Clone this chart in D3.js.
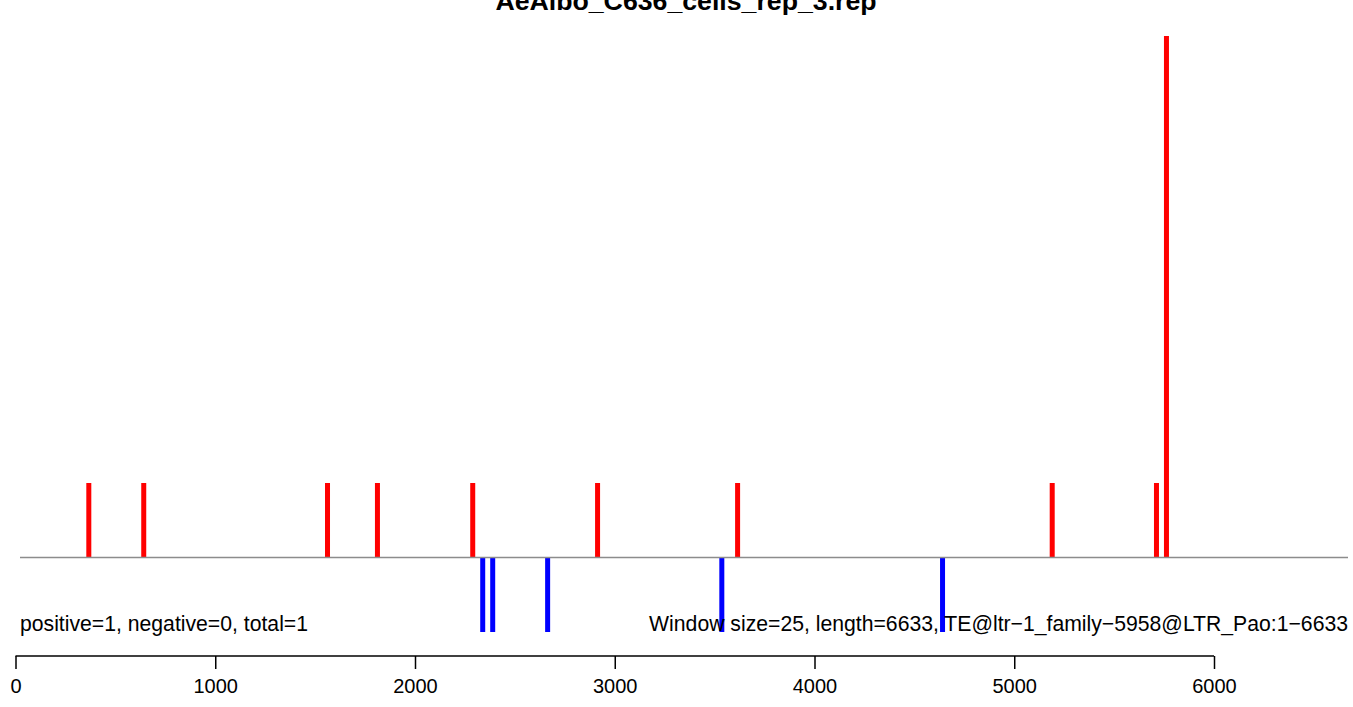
<!DOCTYPE html>
<html><head><meta charset="utf-8">
<script src="https://cdn.jsdelivr.net/npm/d3@7"></script>
<style>html,body{margin:0;padding:0;background:#fff;}svg{display:block;font-family:"Liberation Sans",Arial,sans-serif;}</style>
</head><body><svg id="c" width="1353" height="707"></svg>
<script>
const title = "AeAlbo_C636_cells_rep_3.rep";
const posPositions = [367, 642, 1562, 1812, 2289, 2914, 3615, 5190, 5712, 5762];
const posValues    = [1, 1, 1, 1, 1, 1, 1, 1, 1, 7];
const negPositions = [2339, 2389, 2664, 3536, 4641];
const negValues    = [-1, -1, -1, -1, -1];
const tickValues   = [0, 1000, 2000, 3000, 4000, 5000, 6000];
const leftNote  = "positive=1, negative=0, total=1";
const rightNote = "Window size=25, length=6633, TE@ltr\u22121_family\u22125958@LTR_Pao:1\u22126633";

const svg = d3.select("#c");
const x = d3.scaleLinear().domain([0, 6000]).range([15.5, 1214]);
const y = d3.scaleLinear().domain([0, 7]).range([557.5, 36]);
const bw = 5;

const pos = posPositions.map((p, i) => ({p, v: posValues[i]}));
const neg = negPositions.map((p, i) => ({p, v: negValues[i]}));

svg.append("g").selectAll("rect").data(pos).join("rect")
  .attr("x", d => x(d.p) - bw / 2).attr("width", bw)
  .attr("y", d => y(d.v)).attr("height", d => y(0) - y(d.v))
  .attr("fill", "#ff0000");

svg.append("g").selectAll("rect").data(neg).join("rect")
  .attr("x", d => x(d.p) - bw / 2).attr("width", bw)
  .attr("y", y(0)).attr("height", d => y(d.v) - y(0))
  .attr("fill", "#0000ff");

// baseline
svg.append("line").attr("x1", 20).attr("x2", 1348)
  .attr("y1", y(0)).attr("y2", y(0))
  .attr("stroke", "#8c8c8c").attr("stroke-width", 1.5);

// title
svg.append("text").attr("x", 686).attr("y", 10)
  .attr("text-anchor", "middle").attr("font-weight", "bold")
  .attr("font-size", 26.7).attr("fill", "#000").text(title);

// notes
svg.append("text").attr("x", 20).attr("y", 631)
  .attr("font-size", 21.2).attr("fill", "#000").text(leftNote);
svg.append("text").attr("x", 1348).attr("y", 631).attr("text-anchor", "end")
  .attr("font-size", 21.2).attr("fill", "#000").text(rightNote);

// x axis
const ax = svg.append("g").attr("transform", "translate(0,656)")
  .call(d3.axisBottom(x).tickValues(tickValues).tickSize(13).tickPadding(10).tickFormat(d3.format("d")));
ax.select(".domain").remove();
ax.selectAll(".tick line").attr("stroke", "#000").attr("stroke-width", 1.5);
ax.selectAll(".tick text").attr("font-size", 20).attr("font-family", "Liberation Sans, Arial, sans-serif").attr("fill", "#000");
ax.append("line").attr("x1", x(0)).attr("x2", x(6000)).attr("y1", 0).attr("y2", 0)
  .attr("stroke", "#000").attr("stroke-width", 1.5);
</script></body></html>
